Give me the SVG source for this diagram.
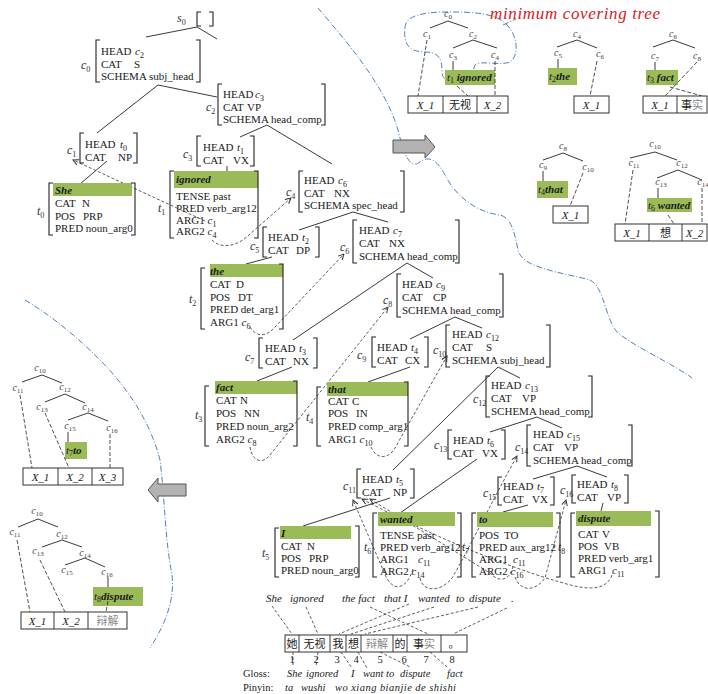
<svg xmlns="http://www.w3.org/2000/svg" width="708" height="694" viewBox="0 0 708 694">
<defs>
<style>
.t{font-family:"Liberation Serif",serif;font-size:11px;fill:#1a1a1a}
.i{font-style:italic}
.b{font-weight:bold;font-style:italic}
.s{font-size:8px;font-style:normal;font-weight:normal}
.lab{font-family:"Liberation Serif",serif;font-size:12px;font-style:italic;fill:#333}
.tl{font-family:"Liberation Serif",serif;font-size:10px;font-style:italic;fill:#444}
.s2{font-size:7px;font-style:normal}
.gl{font-family:"Liberation Serif",serif;font-size:10.5px;fill:#1a1a1a}
.br{fill:none;stroke:#222;stroke-width:1.1}
.ln{fill:none;stroke:#222;stroke-width:0.9}
.da{fill:none;stroke:#333;stroke-width:0.8;stroke-dasharray:3,2}
.dt{fill:none;stroke:#222;stroke-width:0.8;stroke-dasharray:4,2}
.g{fill:#9bbb59}
.bl{fill:none;stroke:#4f81bd;stroke-width:1;stroke-dasharray:6,2,1,2}
.bx{fill:#fff;stroke:#333;stroke-width:1}
.cjk{font-family:"Noto Sans CJK SC",sans-serif;font-size:11px;fill:#222}
.gy{fill:#888}
.arr{fill:#b3b3b3;stroke:#555;stroke-width:1}
.red{font-family:"Liberation Serif",serif;font-size:17px;font-style:italic;fill:#d7191c}
</style>
<marker id="ah" viewBox="0 0 10 10" refX="9" refY="5" markerUnits="userSpaceOnUse" markerWidth="7" markerHeight="7" orient="auto"><path d="M1,1 L9,5 L1,9" fill="none" stroke="#333" stroke-width="1.4"/></marker>
</defs>
<rect width="708" height="694" fill="#fff"/>

<!-- blue dash-dot curves -->
<g id="separators">
<path class="bl" d="M318,8 C345,40 385,85 398,130 C404,155 410,170 420,162 C428,156 436,158 445,175 C455,195 475,212 500,215 C512,218 515,235 518,250 C522,268 560,272 590,280 C605,288 605,320 618,333 C640,350 670,362 692,378"/>
<path class="bl" d="M25,300 C55,318 80,340 100,360 C125,385 150,420 160,460 C165,500 165,540 172,575 C175,600 165,625 150,648"/>
<path class="bl" d="M405,28 C405,15 425,12 447,12 C470,12 495,12 507,25 C517,35 520,55 510,62 C500,66 480,60 475,65 C472,72 475,80 465,82 C455,84 442,82 442,72 C442,60 440,52 425,52 C410,52 403,45 405,28 Z"/>
<path class="bl" d="M503,25 L516,19"/>
</g>
<text id="mct" class="red" x="490" y="19" textLength="170" lengthAdjust="spacing">minimum covering tree</text>

<!-- gray arrows -->
<g id="arrow-right"><polygon class="arr" points="393,140 425,140 425,135 435,147 425,158 425,153 393,153"/></g>
<g id="arrow-left"><polygon class="arr" points="186,484 158,484 158,478 148,490 158,502 158,496 186,496"/></g>

<!-- connectors of main tree -->
<g id="connectors">
<path class="ln" d="M146,37 L197,27 L217,39"/>
<path class="ln" d="M97,133 L158,85 L217,97"/>
<path class="ln" d="M240,137 L267,125 L332,164"/>
<path class="ln" d="M107,161 L80,184"/>
<path class="ln" d="M227,166 L227,178"/>
<path class="ln" d="M299,230 L353,212 L388,222"/>
<path class="ln" d="M272,257 L246,264"/>
<path class="ln" d="M293,340 L407,263 L433,278"/>
<path class="ln" d="M292,367 L257,381"/>
<path class="ln" d="M410,339 L455,317 L482,328"/>
<path class="ln" d="M410,367 L368,382"/>
<path class="ln" d="M393,470 L498,367 L520,378"/>
<path class="ln" d="M490,432 L537,417 L562,428"/>
<path class="ln" d="M477,459 L400,513"/>
<path class="ln" d="M533,479 L577,466 L607,477"/>
<path class="ln" d="M390,498 L303,526"/>
<path class="ln" d="M528,505 L503,512"/>
<path class="ln" d="M603,503 L601,511"/>
<!-- argument links -->
<path class="da" marker-end="url(#ah)" d="M205,221 L73,160"/>
<path class="da" marker-end="url(#ah)" d="M212,240 C222,250 238,246 250,234 L291,198"/>
<path class="da" marker-end="url(#ah)" d="M250,327 C256,337 266,338 276,326 L344,254"/>
<path class="da" marker-end="url(#ah)" d="M250,447 C252,461 262,465 270,455 L388,307"/>
<path class="da" marker-end="url(#ah)" d="M371,447 C376,459 388,460 395,448 L447,356"/>
<path class="da" marker-end="url(#ah)" d="M413,569 C406,592 391,592 384,572 L353,500"/>
<path class="da" marker-end="url(#ah)" d="M420,578 C423,593 441,592 452,578 C462,562 490,505 517,456"/>
<path class="da" marker-end="url(#ah)" d="M513,566 C510,581 499,583 490,573 L370,499"/>
<path class="da" marker-end="url(#ah)" d="M515,577 C520,592 535,592 545,578 L566,500"/>
<path class="da" marker-end="url(#ah)" d="M612,575 C606,592 585,590 560,582 C500,565 420,530 362,499"/>
<!-- sentence alignment -->
<path class="da" d="M272,606 L292,634 M306,607 L318,634 M370,607 L428,634 M409,604 L339,634 M434,607 L351,634 M478,607 L365,634 M507,608 L453,634"/>
<path class="da" d="M293,652 L293,667 M318,652 L316,667 M341,652 L352,668 M358,652 L367,668 M380,652 L410,667 M430,652 L447,667"/>
</g>

<!-- main tree nodes -->
<g id="s0">
<text class="lab" x="177" y="22">s<tspan class="s" dy="3">0</tspan></text>
<path class="br" d="M201,12 H197 V26 H201 M209,12 H213 V26 H209"/>
</g>
<g id="c0">
<text class="lab" x="81" y="69">c<tspan class="s" dy="3">0</tspan></text>
<path class="br" d="M100,40 H96 V82 H100 M196,40 H200 V82 H196"/>
<text class="t" x="101" y="55">HEAD<tspan class="i" x="135">c</tspan><tspan class="s" dy="3">2</tspan></text>
<text class="t" x="101" y="67.5">CAT<tspan x="134">S</tspan></text>
<text class="t" x="101" y="80">SCHEMA subj_head</text>
</g>
<g id="c2">
<text class="lab" x="206" y="111">c<tspan class="s" dy="3">2</tspan></text>
<path class="br" d="M222,84 H218 V125 H222 M321,84 H325 V125 H321"/>
<text class="t" x="223" y="98">HEAD<tspan class="i" x="255">c</tspan><tspan class="s" dy="3">3</tspan></text>
<text class="t" x="223" y="110.5">CAT<tspan x="247">VP</tspan></text>
<text class="t" x="223" y="123">SCHEMA head_comp</text>
</g>
<g id="c1">
<text class="lab" x="67" y="154">c<tspan class="s" dy="3">1</tspan></text>
<path class="br" d="M84,133 H80 V163 H84 M133,133 H137 V163 H133"/>
<text class="t" x="85" y="148">HEAD<tspan class="i" x="120">t</tspan><tspan class="s" dy="3">0</tspan></text>
<text class="t" x="85" y="161">CAT<tspan x="118">NP</tspan></text>
</g>
<g id="t0">
<text class="lab" x="37" y="215">t<tspan class="s" dy="3">0</tspan></text>
<rect class="g" x="53" y="183" width="79" height="13"/>
<path class="br" d="M53,183 H49 V235 H53 M131,183 H135 V235 H131"/>
<text class="t b" x="55" y="194">She</text>
<text class="t" x="55" y="207">CAT<tspan x="82">N</tspan></text>
<text class="t" x="55" y="219.5">POS<tspan x="83">PRP</tspan></text>
<text class="t" x="55" y="232">PRED noun_arg0</text>
</g>
<g id="c3">
<text class="lab" x="183" y="158">c<tspan class="s" dy="3">3</tspan></text>
<path class="br" d="M201,136 H197 V166 H201 M250,136 H254 V166 H250"/>
<text class="t" x="203" y="151">HEAD<tspan class="i" x="237">t</tspan><tspan class="s" dy="3">1</tspan></text>
<text class="t" x="203" y="163.5">CAT<tspan x="233">VX</tspan></text>
</g>
<g id="t1">
<text class="lab" x="158" y="212">t<tspan class="s" dy="3">1</tspan></text>
<rect class="g" x="174" y="171" width="84" height="17"/>
<path class="br" d="M174,171 H170 V238 H174 M254,171 H258 V238 H254"/>
<text class="t b" x="176" y="183">ignored</text>
<text class="t" x="176" y="200">TENSE  past</text>
<text class="t" x="176" y="212">PRED verb_arg12</text>
<text class="t" x="176" y="223.5">ARG1 <tspan class="i">c</tspan><tspan class="s" dy="3">1</tspan></text>
<text class="t" x="176" y="235">ARG2 <tspan class="i">c</tspan><tspan class="s" dy="3">4</tspan></text>
</g>
<g id="c4">
<text class="lab" x="286" y="196">c<tspan class="s" dy="3">4</tspan></text>
<path class="br" d="M303,171 H299 V212 H303 M400,171 H404 V212 H400"/>
<text class="t" x="304" y="184">HEAD<tspan class="i" x="338">c</tspan><tspan class="s" dy="3">6</tspan></text>
<text class="t" x="304" y="196.5">CAT<tspan x="334">NX</tspan></text>
<text class="t" x="304" y="209">SCHEMA spec_head</text>
</g>
<g id="c5">
<text class="lab" x="250" y="250">c<tspan class="s" dy="3">5</tspan></text>
<path class="br" d="M267,227 H263 V257 H267 M315,227 H319 V257 H315"/>
<text class="t" x="268" y="241">HEAD<tspan class="i" x="302">t</tspan><tspan class="s" dy="3">2</tspan></text>
<text class="t" x="268" y="254">CAT<tspan x="296">DP</tspan></text>
</g>
<g id="t2">
<text class="lab" x="189" y="303">t<tspan class="s" dy="3">2</tspan></text>
<rect class="g" x="210" y="264" width="73" height="13"/>
<path class="br" d="M205,268 H201 V329 H205 M279,264 H283 V329 H279"/>
<text class="t b" x="210" y="275">the</text>
<text class="t" x="210" y="288">CAT<tspan x="236">D</tspan></text>
<text class="t" x="210" y="300.5">POS<tspan x="238">DT</tspan></text>
<text class="t" x="210" y="313">PRED det_arg1</text>
<text class="t" x="210" y="325.5">ARG1 <tspan class="i">c</tspan><tspan class="s" dy="3">6</tspan></text>
</g>
<g id="c6">
<text class="lab" x="340" y="251">c<tspan class="s" dy="3">6</tspan></text>
<path class="br" d="M357,220 H353 V263 H357 M455,220 H459 V263 H455"/>
<text class="t" x="359" y="234">HEAD<tspan class="i" x="393">c</tspan><tspan class="s" dy="3">7</tspan></text>
<text class="t" x="359" y="247">CAT<tspan x="389">NX</tspan></text>
<text class="t" x="359" y="260">SCHEMA head_comp</text>
</g>
<g id="c7">
<text class="lab" x="245" y="361">c<tspan class="s" dy="3">7</tspan></text>
<path class="br" d="M263,338 H259 V368 H263 M313,338 H317 V368 H313"/>
<text class="t" x="265" y="352">HEAD<tspan class="i" x="299">t</tspan><tspan class="s" dy="3">3</tspan></text>
<text class="t" x="265" y="365">CAT<tspan x="293">NX</tspan></text>
</g>
<g id="t3">
<text class="lab" x="195" y="419">t<tspan class="s" dy="3">3</tspan></text>
<rect class="g" x="215" y="381" width="82" height="13"/>
<path class="br" d="M209,386 H205 V446 H209 M293,381 H297 V446 H293"/>
<text class="t b" x="216" y="391">fact</text>
<text class="t" x="216" y="404">CAT<tspan x="240">N</tspan></text>
<text class="t" x="216" y="417">POS<tspan x="244">NN</tspan></text>
<text class="t" x="216" y="430">PRED noun_arg2</text>
<text class="t" x="216" y="443">ARG2 <tspan class="i">c</tspan><tspan class="s" dy="3">8</tspan></text>
</g>
<g id="c8">
<text class="lab" x="383" y="304">c<tspan class="s" dy="3">8</tspan></text>
<path class="br" d="M401,274 H397 V317 H401 M499,274 H503 V317 H499"/>
<text class="t" x="402" y="288">HEAD<tspan class="i" x="436">c</tspan><tspan class="s" dy="3">9</tspan></text>
<text class="t" x="402" y="301">CAT<tspan x="433">CP</tspan></text>
<text class="t" x="402" y="314">SCHEMA head_comp</text>
</g>
<g id="c9">
<text class="lab" x="357" y="359">c<tspan class="s" dy="3">9</tspan></text>
<path class="br" d="M376,337 H372 V367 H376 M424,337 H428 V367 H424"/>
<text class="t" x="377" y="351">HEAD<tspan class="i" x="411">t</tspan><tspan class="s" dy="3">4</tspan></text>
<text class="t" x="377" y="364">CAT<tspan x="405">CX</tspan></text>
</g>
<g id="t4">
<text class="lab" x="306" y="421">t<tspan class="s" dy="3">4</tspan></text>
<rect class="g" x="327" y="382" width="81" height="14"/>
<path class="br" d="M321,387 H317 V446 H321 M404,382 H408 V446 H404"/>
<text class="t b" x="328" y="393">that</text>
<text class="t" x="328" y="404.5">CAT<tspan x="352">C</tspan></text>
<text class="t" x="328" y="417">POS<tspan x="356">IN</tspan></text>
<text class="t" x="328" y="430">PRED comp_arg1</text>
<text class="t" x="328" y="443">ARG1 <tspan class="i">c</tspan><tspan class="s" dy="3">10</tspan></text>
</g>
<g id="c10">
<text class="lab" x="433" y="354">c<tspan class="s" dy="3">10</tspan></text>
<path class="br" d="M450,325 H446 V367 H450 M546,325 H550 V367 H546"/>
<text class="t" x="452" y="338">HEAD<tspan class="i" x="486">c</tspan><tspan class="s" dy="3">12</tspan></text>
<text class="t" x="452" y="351">CAT<tspan x="486">S</tspan></text>
<text class="t" x="452" y="364">SCHEMA subj_head</text>
</g>
<g id="c12">
<text class="lab" x="473" y="403">c<tspan class="s" dy="3">12</tspan></text>
<path class="br" d="M490,376 H486 V417 H490 M588,376 H592 V417 H588"/>
<text class="t" x="491" y="389">HEAD<tspan class="i" x="525">c</tspan><tspan class="s" dy="3">13</tspan></text>
<text class="t" x="491" y="402">CAT<tspan x="522">VP</tspan></text>
<text class="t" x="491" y="415">SCHEMA head_comp</text>
</g>
<g id="c13">
<text class="lab" x="434" y="449">c<tspan class="s" dy="3">13</tspan></text>
<path class="br" d="M452,430 H448 V459 H452 M501,430 H505 V459 H501"/>
<text class="t" x="453" y="444">HEAD<tspan class="i" x="487">t</tspan><tspan class="s" dy="3">6</tspan></text>
<text class="t" x="453" y="457">CAT<tspan x="482">VX</tspan></text>
</g>
<g id="c14">
<text class="lab" x="515" y="451">c<tspan class="s" dy="3">14</tspan></text>
<path class="br" d="M531,425 H527 V466 H531 M628,425 H632 V466 H628"/>
<text class="t" x="533" y="438">HEAD<tspan class="i" x="567">c</tspan><tspan class="s" dy="3">15</tspan></text>
<text class="t" x="533" y="451">CAT<tspan x="564">VP</tspan></text>
<text class="t" x="533" y="464">SCHEMA head_comp</text>
</g>
<g id="c11">
<text class="lab" x="343" y="490">c<tspan class="s" dy="3">11</tspan></text>
<path class="br" d="M361,469 H357 V498 H361 M410,469 H414 V498 H410"/>
<text class="t" x="362" y="483">HEAD<tspan class="i" x="396">t</tspan><tspan class="s" dy="3">5</tspan></text>
<text class="t" x="362" y="496">CAT<tspan x="393">NP</tspan></text>
</g>
<g id="c15">
<text class="lab" x="483" y="497">c<tspan class="s" dy="3">15</tspan></text>
<path class="br" d="M502,477 H498 V505 H502 M550,477 H554 V505 H550"/>
<text class="t" x="503" y="490">HEAD<tspan class="i" x="537">t</tspan><tspan class="s" dy="3">7</tspan></text>
<text class="t" x="503" y="503">CAT<tspan x="532">VX</tspan></text>
</g>
<g id="c16">
<text class="lab" x="560" y="494">c<tspan class="s" dy="3">16</tspan></text>
<path class="br" d="M576,475 H572 V503 H576 M624,475 H628 V503 H624"/>
<text class="t" x="577" y="488">HEAD<tspan class="i" x="611">t</tspan><tspan class="s" dy="3">8</tspan></text>
<text class="t" x="577" y="501">CAT<tspan x="607">VP</tspan></text>
</g>
<g id="t5">
<text class="lab" x="262" y="557">t<tspan class="s" dy="3">5</tspan></text>
<rect class="g" x="280" y="526" width="71" height="13"/>
<path class="br" d="M279,528 H275 V577 H279 M355,526 H359 V577 H355"/>
<text class="t b" x="281" y="537">I</text>
<text class="t" x="281" y="550">CAT<tspan x="307">N</tspan></text>
<text class="t" x="281" y="562">POS<tspan x="309">PRP</tspan></text>
<text class="t" x="281" y="574">PRED noun_arg0</text>
</g>
<g id="t6">
<text class="lab" x="364" y="551">t<tspan class="s" dy="3">6</tspan></text>
<rect class="g" x="378" y="512" width="77" height="14"/>
<path class="br" d="M377,513 H373 V577 H377 M457,513 H461 V577 H457"/>
<text class="t b" x="380" y="523">wanted</text>
<text class="t" x="380" y="539">TENSE  past</text>
<text class="t" x="380" y="551">PRED verb_arg12</text>
<text class="t" x="380" y="563">ARG1 <tspan class="i" x="418">c</tspan><tspan class="s" dy="3">11</tspan></text>
<text class="t" x="380" y="575">ARG2 <tspan class="i">c</tspan><tspan class="s" dy="3">14</tspan></text>
</g>
<g id="t7">
<text class="lab" x="462" y="551">t<tspan class="s" dy="3">7</tspan></text>
<rect class="g" x="477" y="512" width="76" height="15"/>
<path class="br" d="M476,513 H472 V577 H476 M556,513 H560 V577 H556"/>
<text class="t b" x="479" y="523">to</text>
<text class="t" x="479" y="539">POS<tspan x="504">TO</tspan></text>
<text class="t" x="479" y="551">PRED aux_arg12</text>
<text class="t" x="479" y="563">ARG1 <tspan class="i" x="513">c</tspan><tspan class="s" dy="3">11</tspan></text>
<text class="t" x="479" y="575">ARG2 <tspan class="i">c</tspan><tspan class="s" dy="3">16</tspan></text>
</g>
<g id="t8">
<text class="lab" x="558" y="551">t<tspan class="s" dy="3">8</tspan></text>
<rect class="g" x="576" y="511" width="75" height="15"/>
<path class="br" d="M575,513 H571 V577 H575 M655,511 H659 V577 H655"/>
<text class="t b" x="578" y="522">dispute</text>
<text class="t" x="578" y="538">CAT<tspan x="602">V</tspan></text>
<text class="t" x="578" y="550">POS<tspan x="604">VB</tspan></text>
<text class="t" x="578" y="562">PRED verb_arg1</text>
<text class="t" x="578" y="574">ARG1 <tspan class="i" x="612">c</tspan><tspan class="s" dy="3">11</tspan></text>
</g>

<!-- sentence -->
<g id="sentence">
<text class="t i" y="602"><tspan x="266">She</tspan><tspan x="290">ignored</tspan><tspan x="342">the fact</tspan><tspan x="384">that I</tspan><tspan x="418">wanted</tspan><tspan x="456">to</tspan><tspan x="469">dispute</tspan><tspan x="511">.</tspan></text>
</g>
<g id="chinese">
<rect class="bx" x="285" y="635" width="182" height="17"/>
<path class="ln" d="M299,635 V652 M330,635 V652 M346,635 V652 M361,635 V652 M393,635 V652 M407,635 V652 M441,635 V652"/>
<text class="cjk" y="648" text-anchor="middle"><tspan x="292">她</tspan><tspan x="314.5">无视</tspan><tspan x="338">我</tspan><tspan x="353.5">想</tspan><tspan x="377" class="gy">辩解</tspan><tspan x="400">的</tspan><tspan x="424">事<tspan class="gy">实</tspan></tspan><tspan x="454">。</tspan></text>
<text class="gl" y="663" text-anchor="middle"><tspan x="292">1</tspan><tspan x="316">2</tspan><tspan x="337">3</tspan><tspan x="356">4</tspan><tspan x="380">5</tspan><tspan x="404">6</tspan><tspan x="426">7</tspan><tspan x="452">8</tspan></text>
<text class="gl" x="243" y="677">Gloss:</text>
<text class="gl i" y="677"><tspan x="287">She</tspan><tspan x="306">ignored</tspan><tspan x="351">I</tspan><tspan x="363">want to</tspan><tspan x="400">dispute</tspan><tspan x="447">fact</tspan></text>
<text class="gl" x="243" y="691">Pinyin:</text>
<text class="gl i" y="691"><tspan x="285">ta</tspan><tspan x="301">wushi</tspan></text>
<text class="gl i" x="335" y="691" textLength="121" lengthAdjust="spacing">wo xiang bianjie de shishi</text>
</g>

<!-- top-right small trees -->
<g id="treeA">
<text class="tl" x="448" y="17" text-anchor="middle">c<tspan class="s2" dy="2">0</tspan></text>
<path class="ln" d="M430,28 L448,21 L468,28 M453,48 L473,40 L497,48 M453,61 V70"/>
<text class="tl" x="427" y="37" text-anchor="middle">c<tspan class="s2" dy="2">1</tspan></text>
<text class="tl" x="473" y="37" text-anchor="middle">c<tspan class="s2" dy="2">2</tspan></text>
<text class="tl" x="453" y="58" text-anchor="middle">c<tspan class="s2" dy="2">3</tspan></text>
<text class="tl" x="495" y="58" text-anchor="middle">c<tspan class="s2" dy="2">4</tspan></text>
<rect class="g" x="445" y="70" width="50" height="15"/>
<text class="t" x="447" y="81"><tspan class="i">t</tspan><tspan class="s" dy="2">1</tspan><tspan class="b" dy="-2"> ignored</tspan></text>
<path class="dt" d="M495,61 V96 M427,40 L418,96 M457,86 L468,96"/>
<rect class="bx" x="408" y="96" width="100" height="17"/>
<path class="ln" d="M443,96 V113 M477,96 V113"/>
<text class="t i" x="425.5" y="108.5" text-anchor="middle">X_1</text>
<text class="cjk" x="460" y="109" text-anchor="middle">无视</text>
<text class="t i" x="492.5" y="108.5" text-anchor="middle">X_2</text>
</g>
<g id="treeB">
<text class="tl" x="577" y="37" text-anchor="middle">c<tspan class="s2" dy="2">4</tspan></text>
<path class="ln" d="M557,47 L577,40 L597,48 M558,59 V68"/>
<text class="tl" x="558" y="56" text-anchor="middle">c<tspan class="s2" dy="2">5</tspan></text>
<text class="tl" x="600" y="57" text-anchor="middle">c<tspan class="s2" dy="2">6</tspan></text>
<rect class="g" x="548" y="68" width="29" height="17"/>
<text class="t" x="549" y="80"><tspan class="i">t</tspan><tspan class="s" dy="2">2</tspan><tspan class="b" dy="-2">the</tspan></text>
<path class="dt" d="M597,61 L590,96"/>
<rect class="bx" x="574" y="96" width="35" height="17"/>
<text class="t i" x="591.5" y="108.5" text-anchor="middle">X_1</text>
</g>
<g id="treeC">
<text class="tl" x="673" y="37" text-anchor="middle">c<tspan class="s2" dy="2">6</tspan></text>
<path class="ln" d="M653,47 L673,40 L695,48 M655,62 V70"/>
<text class="tl" x="655" y="59" text-anchor="middle">c<tspan class="s2" dy="2">7</tspan></text>
<text class="tl" x="697" y="59" text-anchor="middle">c<tspan class="s2" dy="2">8</tspan></text>
<rect class="g" x="646" y="70" width="32" height="15"/>
<text class="t" x="647" y="81"><tspan class="i">t</tspan><tspan class="s" dy="2">3</tspan><tspan class="b" dy="-2"> fact</tspan></text>
<path class="dt" d="M697,62 L665,96 M670,87 L702,96"/>
<rect class="bx" x="643" y="96" width="64" height="17"/>
<path class="ln" d="M677,96 V113"/>
<text class="t i" x="660" y="108.5" text-anchor="middle">X_1</text>
<text class="cjk" x="692" y="109" text-anchor="middle">事<tspan class="gy">实</tspan></text>
</g>
<g id="treeD">
<text class="tl" x="563" y="149" text-anchor="middle">c<tspan class="s2" dy="2">8</tspan></text>
<path class="ln" d="M543,160 L563,153 L583,161 M543,171 V181"/>
<text class="tl" x="543" y="168" text-anchor="middle">c<tspan class="s2" dy="2">9</tspan></text>
<text class="tl" x="588" y="170" text-anchor="middle">c<tspan class="s2" dy="2">10</tspan></text>
<rect class="g" x="537" y="181" width="31" height="17"/>
<text class="t" x="538" y="193"><tspan class="i">t</tspan><tspan class="s" dy="2">4</tspan><tspan class="b" dy="-2">that</tspan></text>
<path class="dt" d="M583,173 L570,206"/>
<rect class="bx" x="553" y="206" width="35" height="17"/>
<text class="t i" x="570.5" y="218.5" text-anchor="middle">X_1</text>
</g>
<g id="treeE">
<text class="tl" x="655" y="147" text-anchor="middle">c<tspan class="s2" dy="2">10</tspan></text>
<path class="ln" d="M630,158 L655,152 L677,160 M657,178 L678,170 L702,180 M658,188 V198"/>
<text class="tl" x="634" y="166" text-anchor="middle">c<tspan class="s2" dy="2">11</tspan></text>
<text class="tl" x="682" y="166" text-anchor="middle">c<tspan class="s2" dy="2">12</tspan></text>
<text class="tl" x="661" y="185" text-anchor="middle">c<tspan class="s2" dy="2">13</tspan></text>
<text class="tl" x="703" y="185" text-anchor="middle">c<tspan class="s2" dy="2">14</tspan></text>
<rect class="g" x="647" y="198" width="45" height="14"/>
<text class="t" x="648" y="209"><tspan class="i">t</tspan><tspan class="s" dy="2">6</tspan><tspan class="b" dy="-2"> wanted</tspan></text>
<path class="dt" d="M633,170 L625,224 M702,188 V224 M668,215 L674,224"/>
<rect class="bx" x="615" y="224" width="92" height="17"/>
<path class="ln" d="M649,224 V241 M682,224 V241"/>
<text class="t i" x="632" y="236.5" text-anchor="middle">X_1</text>
<text class="cjk" x="665.5" y="237" text-anchor="middle">想</text>
<text class="t i" x="694.5" y="236.5" text-anchor="middle">X_2</text>
</g>

<!-- left small trees -->
<g id="treeF">
<text class="tl" x="40" y="371" text-anchor="middle">c<tspan class="s2" dy="2">10</tspan></text>
<path class="ln" d="M22,382 L42,375 L62,383 M45,402 L65,394 L85,403 M68,420 L88,413 L108,421 M68,432 V442"/>
<text class="tl" x="18" y="391" text-anchor="middle">c<tspan class="s2" dy="2">11</tspan></text>
<text class="tl" x="65" y="390" text-anchor="middle">c<tspan class="s2" dy="2">12</tspan></text>
<text class="tl" x="42" y="410" text-anchor="middle">c<tspan class="s2" dy="2">13</tspan></text>
<text class="tl" x="88" y="410" text-anchor="middle">c<tspan class="s2" dy="2">14</tspan></text>
<text class="tl" x="70" y="429" text-anchor="middle">c<tspan class="s2" dy="2">15</tspan></text>
<text class="tl" x="112" y="431" text-anchor="middle">c<tspan class="s2" dy="2">16</tspan></text>
<rect class="g" x="65" y="442" width="22" height="17"/>
<text class="t" x="66" y="454"><tspan class="i">t</tspan><tspan class="s" dy="2">7</tspan><tspan class="b" dy="-2">to</tspan></text>
<path class="dt" d="M20,395 L32,468 M45,413 L69,468 M110,434 V468"/>
<rect class="bx" x="23" y="468" width="100" height="17"/>
<path class="ln" d="M58,468 V485 M92,468 V485"/>
<text class="t i" x="40.5" y="480.5" text-anchor="middle">X_1</text>
<text class="t i" x="75" y="480.5" text-anchor="middle">X_2</text>
<text class="t i" x="107.5" y="480.5" text-anchor="middle">X_3</text>
</g>
<g id="treeG">
<text class="tl" x="37" y="514" text-anchor="middle">c<tspan class="s2" dy="2">10</tspan></text>
<path class="ln" d="M18,527 L38,519 L58,527 M42,547 L62,540 L82,547 M65,565 L85,558 L105,567 M108,577 V587"/>
<text class="tl" x="15" y="535" text-anchor="middle">c<tspan class="s2" dy="2">11</tspan></text>
<text class="tl" x="62" y="537" text-anchor="middle">c<tspan class="s2" dy="2">12</tspan></text>
<text class="tl" x="38" y="554" text-anchor="middle">c<tspan class="s2" dy="2">13</tspan></text>
<text class="tl" x="85" y="556" text-anchor="middle">c<tspan class="s2" dy="2">14</tspan></text>
<text class="tl" x="67" y="573" text-anchor="middle">c<tspan class="s2" dy="2">15</tspan></text>
<text class="tl" x="107" y="575" text-anchor="middle">c<tspan class="s2" dy="2">16</tspan></text>
<rect class="g" x="93" y="587" width="50" height="19"/>
<text class="t" x="94" y="600"><tspan class="i">t</tspan><tspan class="s" dy="2">8</tspan><tspan class="b" dy="-2">dispute</tspan></text>
<path class="dt" d="M17,540 L30,612 M40,560 L65,612 M108,601 L106,612"/>
<rect class="bx" x="21" y="612" width="106" height="17"/>
<path class="ln" d="M54,612 V629 M88,612 V629"/>
<text class="t i" x="37.5" y="624.5" text-anchor="middle">X_1</text>
<text class="t i" x="71" y="624.5" text-anchor="middle">X_2</text>
<text class="cjk gy" x="107.5" y="625" text-anchor="middle">辩解</text>
</g>
</svg>
